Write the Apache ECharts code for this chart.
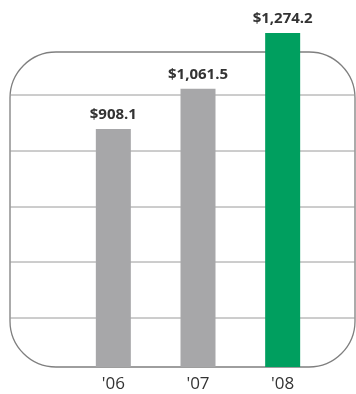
<!DOCTYPE html>
<html><head><meta charset="utf-8">
<script src="https://cdn.jsdelivr.net/npm/echarts@6/dist/echarts.min.js"></script>
<style>html,body{margin:0;padding:0;background:#fff}#c{width:356px;height:394px}</style>
</head><body><div id="c"></div>
<script>
const categories = ["'06", "'07", "'08"];
const values = [908.1, 1061.5, 1274.2];
const valueLabels = ["$908.1", "$1,061.5", "$1,274.2"];
const barColors = ["#a7a7a9", "#a7a7a9", "#009f5f"];
const gridLineYs = [95, 151, 207, 262, 318];

const chart = echarts.init(document.getElementById('c'));
const graphics = [{
  type: 'rect', z: 0, silent: true,
  shape: {x: 10, y: 52, width: 345, height: 315, r: 46},
  style: {fill: 'none', stroke: '#7f7f7f', lineWidth: 1.3}
}];
gridLineYs.forEach(y => graphics.push({
  type: 'line', z: 0, silent: true,
  shape: {x1: 10, y1: y, x2: 355, y2: y},
  style: {stroke: '#9a9a9a', lineWidth: 1}
}));
chart.setOption({
  animation: false,
  graphic: graphics,
  grid: {left: 71, right: 31, top: 0, bottom: 27},
  xAxis: {
    type: 'category', data: categories,
    axisLine: {show: false}, axisTick: {show: false},
    axisLabel: {color: '#333', fontSize: 17, fontFamily: 'Open Sans', margin: 9}
  },
  yAxis: {type: 'value', min: 0, max: 1400, show: false, splitLine: {show: false}},
  series: [{
    type: 'bar', barWidth: 35, z: 5,
    data: values.map((v, i) => ({value: v, itemStyle: {color: barColors[i]}})),
    label: {
      show: true, position: 'top', distance: 7,
      formatter: p => valueLabels[p.dataIndex],
      color: '#333', fontSize: 15, fontWeight: 'bold', fontFamily: 'Open Sans'
    }
  }]
});
</script></body></html>
